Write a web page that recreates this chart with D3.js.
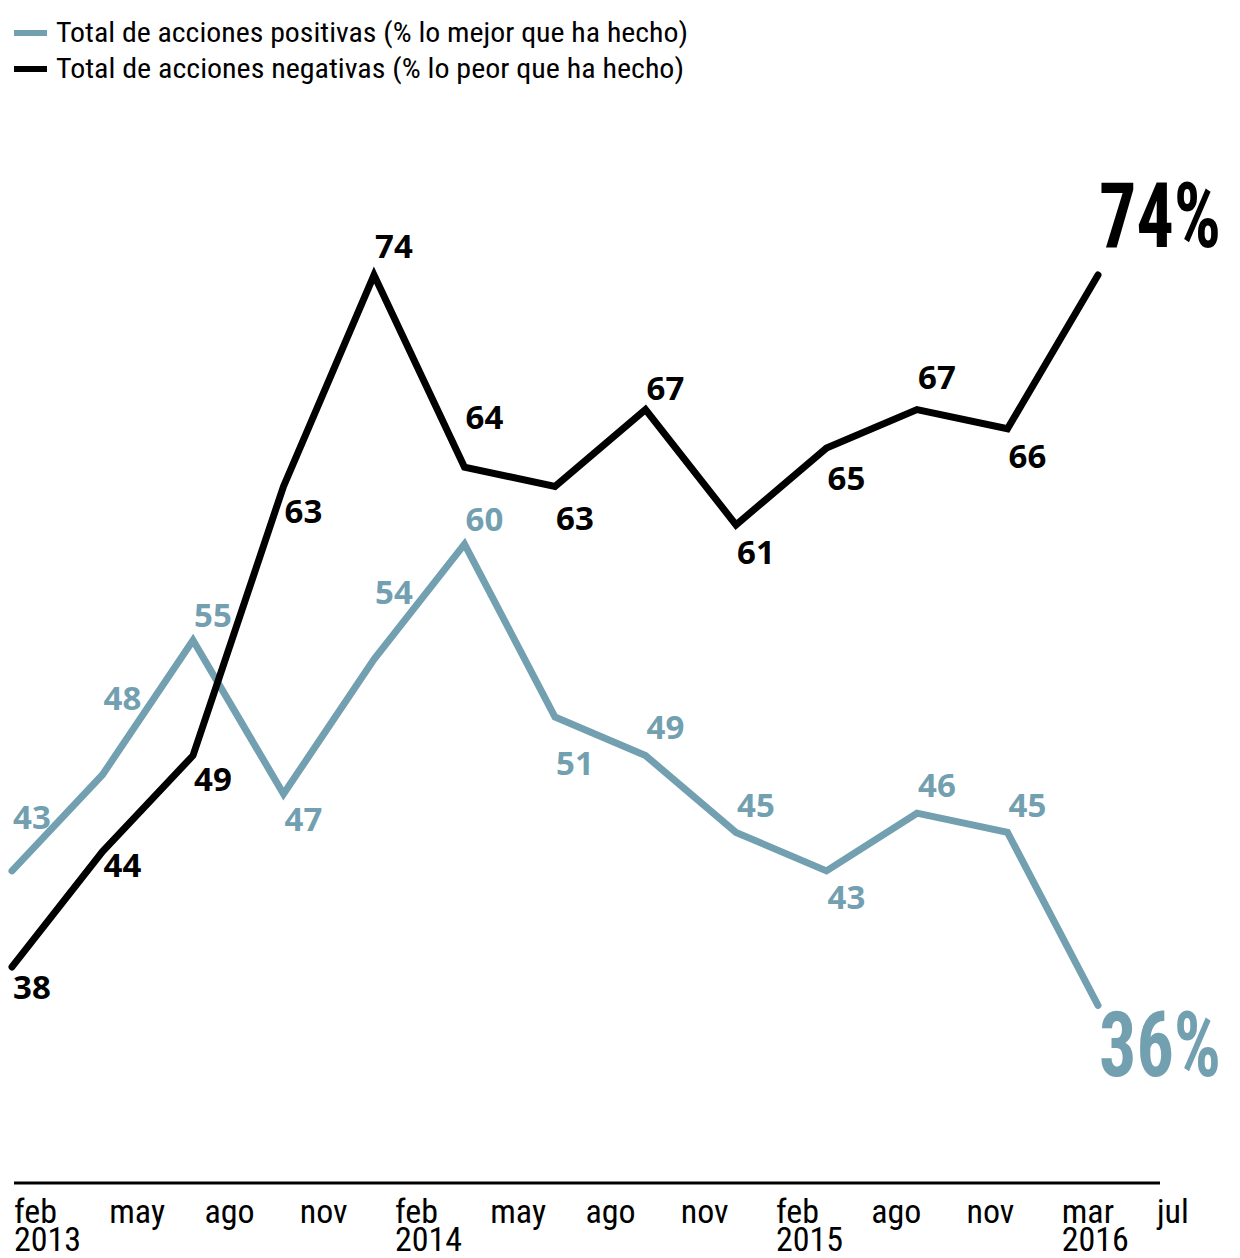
<!DOCTYPE html>
<html>
<head>
<meta charset="utf-8">
<script src="https://cdn.jsdelivr.net/npm/d3@7"></script>
<style>
  body { margin: 0; background: #fff; }
  svg { display: block; }
</style>
</head>
<body>
<div id="chart"></div>
<script>
// data
const periods = ["2013-02", "2013-05", "2013-08", "2013-11", "2014-02", "2014-05", "2014-08",
  "2014-11", "2015-02", "2015-05", "2015-08", "2015-11", "2016-03"];
const positivas = [43, 48, 55, 47, 54, 60, 51, 49, 45, 43, 46, 45, 36];
const negativas = [38, 44, 49, 63, 74, 64, 63, 67, 61, 65, 67, 66, 74];

const tickMonths = ["feb", "may", "ago", "nov", "feb", "may", "ago", "nov", "feb", "ago", "nov", "mar", "jul"];
const tickYears = ["2013", "", "", "", "2014", "", "", "", "2015", "", "", "2016", ""];

const legendLabels = [
  "Total de acciones positivas (% lo mejor que ha hecho)",
  "Total de acciones negativas (% lo peor que ha hecho)"
];

// vertical nudges for value labels (px, label centre relative to point)
const posLabelDy = [-54, -77, -25, 25, -67, -25, 46, -28, -27, 26, -28, -27];
const negLabelDy = [20, 13, 24, 25, -29, -50, 32, -21, 27, 30, -32, 27];

const W = 1240, H = 1258;
const BLUE = "#72a0b0";
const narrow = "'Liberation Sans Narrow', 'Arial Narrow', 'Roboto Condensed', sans-serif";
const bold = "'Noto Sans', 'Open Sans', sans-serif";

const svg = d3.select("#chart").append("svg")
  .attr("width", W).attr("height", H);

const x = d3.scalePoint().domain(periods).range([12, 1098]);
const y = d3.scaleLinear().domain([36, 74]).range([1005.4, 275]);
const xTick = d3.scalePoint().domain(d3.range(tickMonths.length)).range([14, 1157]);

// legend
const legend = svg.append("g");
[BLUE, "#000"].forEach((c, i) => {
  const g = legend.append("g").attr("transform", `translate(0,${33 + i * 36})`);
  g.append("line").attr("x1", 14).attr("x2", 47).attr("stroke", c).attr("stroke-width", 6);
  g.append("text")
    .attr("x", 56).attr("dy", "0.35em")
    .attr("font-family", narrow).attr("font-size", 27)
    .attr("textLength", i === 0 ? 632 : 628).attr("lengthAdjust", "spacingAndGlyphs")
    .text(legendLabels[i]);
});

// axis
svg.append("line")
  .attr("x1", 14).attr("x2", 1160).attr("y1", 1183).attr("y2", 1183)
  .attr("stroke", "#000").attr("stroke-width", 3);

const ticks = svg.append("g").attr("font-family", narrow).attr("font-size", 34).attr("fill", "#000");
tickMonths.forEach((m, i) => {
  ticks.append("text").attr("x", xTick(i)).attr("y", 1223).text(m);
  if (tickYears[i]) ticks.append("text").attr("x", xTick(i)).attr("y", 1251).text(tickYears[i]);
});

// lines
const line = d3.line().x((d, i) => x(periods[i])).y(d => y(d));

function drawSeries(values, color, dys, bigDy) {
  svg.append("path")
    .datum(values)
    .attr("d", line)
    .attr("fill", "none")
    .attr("stroke", color)
    .attr("stroke-width", 7)
    .attr("stroke-linejoin", "miter")
    .attr("stroke-linecap", "round");

  svg.append("g").selectAll("text")
    .data(values.slice(0, -1))
    .join("text")
    .attr("x", (d, i) => x(periods[i]) + 1)
    .attr("y", (d, i) => y(d) + dys[i])
    .attr("dy", "0.36em")
    .attr("font-family", bold)
    .attr("font-weight", 700)
    .attr("font-size", 33)
    .attr("fill", color)
    .text(d => d);

  // big end label, squeezed horizontally to a condensed look
  const last = values.length - 1;
  const big = svg.append("text")
    .attr("dy", "0.36em")
    .attr("font-family", narrow)
    .attr("font-weight", 700)
    .attr("font-size", 90)
    .attr("fill", color)
    .text(values[last] + "%");
  const sx = 122 / big.node().getComputedTextLength();
  big.attr("transform",
    `translate(${x(periods[last]) + 1},${y(values[last]) + bigDy}) scale(${sx},1)`);
}

drawSeries(positivas, BLUE, posLabelDy, 38);
drawSeries(negativas, "#000", negLabelDy, -60);
</script>
</body>
</html>
